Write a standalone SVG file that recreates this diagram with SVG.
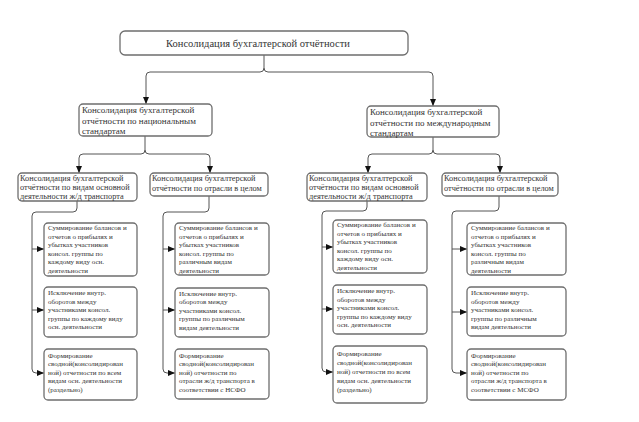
<svg xmlns="http://www.w3.org/2000/svg" width="639" height="422" viewBox="0 0 639 422">
<defs>
<marker id="ah" markerUnits="userSpaceOnUse" markerWidth="8" markerHeight="7" refX="7" refY="3" orient="auto">
<path d="M0,0 L7,3 L0,6 z" fill="#111"/>
</marker>
<style>
.box{fill:#fff;stroke:#6e6e6e;stroke-width:1.3}
.t{font-family:"Liberation Serif","Times New Roman",serif;fill:#333}
.t0{font-size:10.5px}
.t1{font-size:9px}
.t2{font-size:8.3px}
.t3{font-size:7px}
.c{fill:none;stroke:#555;stroke-width:1}
.a{marker-end:url(#ah)}
</style>
</defs>
<rect width="639" height="422" fill="#fff"/>

<g id="connectors">
<path class="c a" d="M264,55 V68 Q264,72 260,72 H150 Q146,72 146,76 V104"/>
<path class="c a" d="M264,68 Q264,72 268,72 H429 Q433,72 433,76 V106"/>

<path class="c a" d="M145,136 V150 Q145,154 141,154 H83 Q79,154 79,158 V173"/>
<path class="c a" d="M145,150 Q145,154 149,154 H206 Q210,154 210,158 V173"/>
<path class="c a" d="M433,137 V150 Q433,154 429,154 H372 Q368,154 368,158 V173"/>
<path class="c a" d="M433,150 Q433,154 437,154 H496 Q500,154 500,158 V173"/>

<path class="c a" d="M77,201 V208 Q77,212 73,212 H36 Q32,212 32,216 V369 Q32,373 36,373 H44"/>
<path class="c a" d="M32,249 H44"/>
<path class="c a" d="M32,310 H44"/>

<path class="c a" d="M209,196 V208 Q209,212 205,212 H167 Q163,212 163,216 V369 Q163,373 167,373 H175"/>
<path class="c a" d="M163,249 H175"/>
<path class="c a" d="M163,310 H175"/>

<path class="c a" d="M367,201 V207 Q367,211 363,211 H326 Q322,211 322,215 V368 Q322,372 326,372 H333"/>
<path class="c a" d="M322,247 H333"/>
<path class="c a" d="M322,309 H333"/>

<path class="c a" d="M499,196 V207 Q499,211 495,211 H456 Q452,211 452,215 V369 Q452,373 456,373 H467"/>
<path class="c a" d="M452,249 H467"/>
<path class="c a" d="M452,312 H467"/>
</g>

<g id="root">
<rect class="box" x="120" y="31" width="288" height="24" rx="5"/>
<text class="t t0" x="258" y="46.5" text-anchor="middle">Консолидация бухгалтерской отчётности</text>
</g>

<g id="nat">
<rect class="box" x="79" y="104" width="133" height="32" rx="4"/>
<text class="t t1" x="82" y="113">Консолидация бухгалтерской</text>
<text class="t t1" x="82" y="123.5">отчётности по национальным</text>
<text class="t t1" x="82" y="134">стандартам</text>
</g>

<g id="intl">
<rect class="box" x="367" y="106" width="132" height="31" rx="4"/>
<text class="t t1" x="370" y="115">Консолидация бухгалтерской</text>
<text class="t t1" x="370" y="125.5">отчётности по международным</text>
<text class="t t1" x="370" y="135.5">стандартам</text>
</g>

<g id="nat-types">
<rect class="box" x="18" y="173" width="119" height="28" rx="4"/>
<text class="t t2" x="20" y="180.5">Консолидация бухгалтерской</text>
<text class="t t2" x="20" y="189.5">отчётности по видам основной</text>
<text class="t t2" x="20" y="198.5">деятельности ж/д транспорта</text>
</g>

<g id="nat-branch">
<rect class="box" x="150" y="173" width="118" height="23" rx="4"/>
<text class="t t2" x="152" y="181">Консолидация бухгалтерской</text>
<text class="t t2" x="152" y="191">отчётности по отрасли в целом</text>
</g>

<g id="intl-types">
<rect class="box" x="307" y="173" width="120" height="28" rx="4"/>
<text class="t t2" x="309" y="180.5">Консолидация бухгалтерской</text>
<text class="t t2" x="309" y="189.5">отчётности по видам основной</text>
<text class="t t2" x="309" y="198.5">деятельности ж/д транспорта</text>
</g>

<g id="intl-branch">
<rect class="box" x="442" y="173" width="116" height="23" rx="4"/>
<text class="t t2" x="444" y="181">Консолидация бухгалтерской</text>
<text class="t t2" x="444" y="191">отчётности по отрасли в целом</text>
</g>

<g id="c1-sum">
<rect class="box" x="44" y="223" width="93" height="53" rx="4"/>
<text class="t t3" x="48" y="230">Суммирование балансов и</text>
<text class="t t3" x="48" y="238.5">отчетов о прибылях и</text>
<text class="t t3" x="48" y="247">убытках участников</text>
<text class="t t3" x="48" y="255.5">консол. группы по</text>
<text class="t t3" x="48" y="264">каждому виду осн.</text>
<text class="t t3" x="48" y="272.5">деятельности</text>
</g>
<g id="c1-excl">
<rect class="box" x="44" y="287" width="93" height="50" rx="4"/>
<text class="t t3" x="48" y="295">Исключение внутр.</text>
<text class="t t3" x="48" y="303.5">оборотов между</text>
<text class="t t3" x="48" y="312">участниками консол.</text>
<text class="t t3" x="48" y="320.5">группы по каждому виду</text>
<text class="t t3" x="48" y="329">осн. деятельности</text>
</g>
<g id="c1-form">
<rect class="box" x="44" y="349" width="93" height="51" rx="4"/>
<text class="t t3" x="48" y="357.5">Формирование</text>
<text class="t t3" x="48" y="366">сводной(консолидирован</text>
<text class="t t3" x="48" y="374.5">ной) отчетности по всем</text>
<text class="t t3" x="48" y="383">видам осн. деятельности</text>
<text class="t t3" x="48" y="391.5">(раздельно)</text>
</g>

<g id="c2-sum">
<rect class="box" x="175" y="223" width="94" height="52" rx="4"/>
<text class="t t3" x="179" y="230">Суммирование балансов и</text>
<text class="t t3" x="179" y="238.5">отчетов о прибылях и</text>
<text class="t t3" x="179" y="247">убытках участников</text>
<text class="t t3" x="179" y="255.5">консол. группы по</text>
<text class="t t3" x="179" y="264">различным видам</text>
<text class="t t3" x="179" y="272.5">деятельности</text>
</g>
<g id="c2-excl">
<rect class="box" x="175" y="288" width="94" height="49" rx="4"/>
<text class="t t3" x="179" y="295.5">Исключение внутр.</text>
<text class="t t3" x="179" y="304">оборотов между</text>
<text class="t t3" x="179" y="312.5">участниками консол.</text>
<text class="t t3" x="179" y="321">группы по различным</text>
<text class="t t3" x="179" y="329.5">видам деятельности</text>
</g>
<g id="c2-form">
<rect class="box" x="175" y="349" width="94" height="50" rx="4"/>
<text class="t t3" x="179" y="357.5">Формирование</text>
<text class="t t3" x="179" y="366">сводной(консолидирован</text>
<text class="t t3" x="179" y="374.5">ной) отчетности по</text>
<text class="t t3" x="179" y="383">отрасли ж/д транспорта в</text>
<text class="t t3" x="179" y="391.5">соответствии с НСФО</text>
</g>

<g id="c3-sum">
<rect class="box" x="333" y="220" width="94" height="53" rx="4"/>
<text class="t t3" x="337" y="227">Суммирование балансов и</text>
<text class="t t3" x="337" y="235.5">отчетов о прибылях и</text>
<text class="t t3" x="337" y="244">убытках участников</text>
<text class="t t3" x="337" y="252.5">консол. группы по</text>
<text class="t t3" x="337" y="261">каждому виду осн.</text>
<text class="t t3" x="337" y="269.5">деятельности</text>
</g>
<g id="c3-excl">
<rect class="box" x="333" y="285" width="94" height="49" rx="4"/>
<text class="t t3" x="337" y="293">Исключение внутр.</text>
<text class="t t3" x="337" y="301.5">оборотов между</text>
<text class="t t3" x="337" y="310">участниками консол.</text>
<text class="t t3" x="337" y="318.5">группы по каждому виду</text>
<text class="t t3" x="337" y="327">осн. деятельности</text>
</g>
<g id="c3-form">
<rect class="box" x="333" y="346" width="94" height="57" rx="4"/>
<text class="t t3" x="337" y="356">Формирование</text>
<text class="t t3" x="337" y="365">сводной(консолидирован</text>
<text class="t t3" x="337" y="374">ной) отчетности по всем</text>
<text class="t t3" x="337" y="383">видам осн. деятельности</text>
<text class="t t3" x="337" y="392">(раздельно)</text>
</g>

<g id="c4-sum">
<rect class="box" x="467" y="223" width="99" height="52" rx="4"/>
<text class="t t3" x="471" y="230">Суммирование балансов и</text>
<text class="t t3" x="471" y="238.5">отчетов о прибылях и</text>
<text class="t t3" x="471" y="247">убытках участников</text>
<text class="t t3" x="471" y="255.5">консол. группы по</text>
<text class="t t3" x="471" y="264">различным видам</text>
<text class="t t3" x="471" y="272.5">деятельности</text>
</g>
<g id="c4-excl">
<rect class="box" x="467" y="287" width="99" height="49" rx="4"/>
<text class="t t3" x="471" y="295">Исключение внутр.</text>
<text class="t t3" x="471" y="303.5">оборотов между</text>
<text class="t t3" x="471" y="312">участниками консол.</text>
<text class="t t3" x="471" y="320.5">группы по различным</text>
<text class="t t3" x="471" y="329">видам деятельности</text>
</g>
<g id="c4-form">
<rect class="box" x="467" y="349" width="99" height="51" rx="4"/>
<text class="t t3" x="471" y="357.5">Формирование</text>
<text class="t t3" x="471" y="366">сводной(консолидирован</text>
<text class="t t3" x="471" y="374.5">ной) отчетности по</text>
<text class="t t3" x="471" y="383">отрасли ж/д транспорта в</text>
<text class="t t3" x="471" y="391.5">соответствии с МСФО</text>
</g>
</svg>
